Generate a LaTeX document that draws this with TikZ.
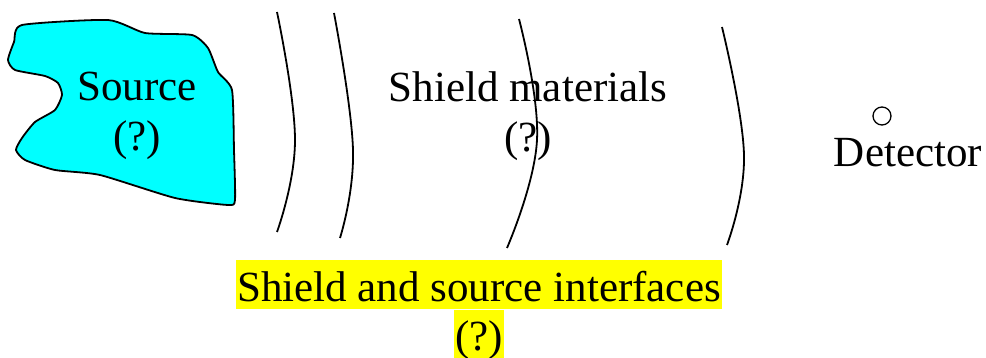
\documentclass[tikz,border=0pt]{standalone}
\usepackage{fontspec}
\setmainfont{Liberation Serif}
\usepackage{xcolor}
\definecolor{SourceCyan}{HTML}{00FFFF}
\definecolor{MarkYellow}{HTML}{FFFF00}
\usepackage{tikz}
\usetikzlibrary{positioning}
\tikzset{
  bigtext/.style={
    font=\fontsize{43}{50}\selectfont,
    align=center,
    inner sep=0pt
  },
  hilite/.style={
    bigtext,
    fill=MarkYellow,
    text height=41pt,
    text depth=8pt,
    inner xsep=1pt
  },
  sourceblob/.style={
    draw=black,
    fill=SourceCyan,
    line width=1.8pt,
    line join=round
  },
  wall/.style={
    draw=black,
    line width=1.8pt
  },
  detdot/.style={
    draw=black,
    circle,
    minimum size=18pt,
    inner sep=0pt,
    line width=1.3pt
  }
}

\begin{document}
\begin{tikzpicture}[x=1pt,y=-1pt]
  \useasboundingbox (0,0) rectangle (986,358);
  % source blob
  \draw[sourceblob] plot[smooth cycle, tension=0.35] coordinates {
    (22,25) (108,20) (145,33) (192,35) (208,48) (218,72) (232,90)
    (234,150) (235,200) (228,205) (175,198) (100,175) (55,170) (25,160)
    (16,150) (22,138) (35,122) (55,110) (62,95) (58,83) (45,76)
    (15,70) (8,60) (14,42)};
  \node[bigtext] (source) at (137,116) {Source\\(?)};
  % shield walls
  \foreach \xt/\yt/\xm/\ym/\xb/\yb in {277/12/295/140/277/232,
                                       334/13/353/150/340/238,
                                       519/19/537/140/507/248,
                                       722/27/744/155/727/245}{
    \draw[wall] plot[smooth, tension=0.7] coordinates {(\xt,\yt) (\xm,\ym) (\xb,\yb)};
  }
  \node[bigtext] (shield) at (528,116) {Shield materials\\(?)};
  % detector
  \node[detdot] (det) at (882,116) {};
  \node[bigtext, below=12pt of det, xshift=26pt] (detector) {Detector};
  % interfaces
  \node[hilite] (iface) at (479,285) {Shield and source interfaces};
  \node[hilite, below=0pt of iface] (ifaceq) {(?)};
\end{tikzpicture}
\end{document}
